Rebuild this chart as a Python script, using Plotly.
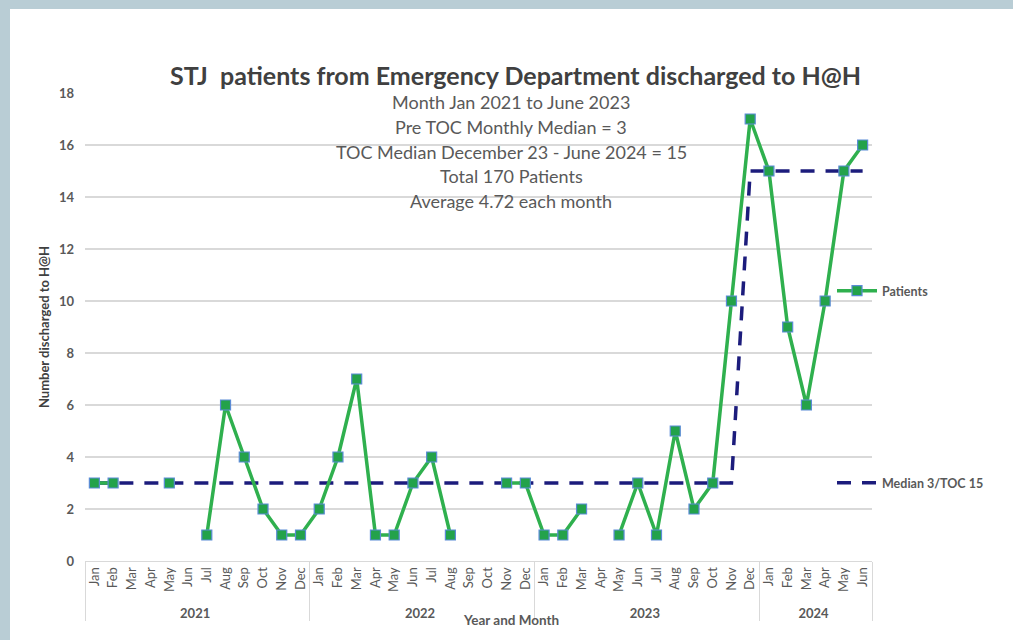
import plotly.graph_objects as go

# --- data -------------------------------------------------------------------
years = ["2021"] * 12 + ["2022"] * 12 + ["2023"] * 12 + ["2024"] * 6
months = ["Jan", "Feb", "Mar", "Apr", "May", "Jun",
          "Jul", "Aug", "Sep", "Oct", "Nov", "Dec"] * 3 + \
         ["Jan", "Feb", "Mar", "Apr", "May", "Jun"]

patients = [3, 3, None, None, 3, None, 1, 6, 4, 2, 1, 1,
            2, 4, 7, 1, 1, 3, 4, 1, None, None, 3, 3,
            1, 1, 2, None, 1, 3, 1, 5, 2, 3, 10, 17,
            15, 9, 6, 10, 15, 16]
median = [3, 3, 3, 3, 3, 3, 3, 3, 3, 3, 3, 3,
          3, 3, 3, 3, 3, 3, 3, 3, 3, 3, 3, 3,
          3, 3, 3, 3, 3, 3, 3, 3, 3, 3, 3, 15,
          15, 15, 15, 15, 15, 15]

title_text = "STJ  patients from Emergency Department discharged to H@H"
notes = ["Month Jan 2021 to June 2023",
         "Pre TOC Monthly Median = 3",
         "TOC Median December 23 - June 2024 = 15",
         "Total 170 Patients",
         "Average 4.72 each month"]

FONT = "Lato, 'Open Sans', sans-serif"
GREY = "#595959"
GRID = "#d9d9d9"

# plot area in pixels: x 85..872, y 93..561
L, R, T, B = 85, 141, 93, 79
W, H = 1013, 640
PH = H - T - B


def py(ypix):
    """pixel row -> paper y"""
    return (H - B - ypix) / PH


def px(xpix):
    return (xpix - L) / (W - L - R)


# year group labels are bold in the original
year_labels = ["<b>%s</b>" % y for y in years]

fig = go.Figure()

fig.add_trace(go.Scatter(
    x=[year_labels, months], y=median, name="Median 3/TOC 15",
    mode="lines", line=dict(color="#1c1c7c", width=3.5, dash="14px,11px"),
    legend="legend2", showlegend=True, hoverinfo="skip",
))
fig.add_trace(go.Scatter(
    x=[year_labels, months], y=patients, name="Patients",
    mode="lines+markers", connectgaps=False,
    line=dict(color="#2fb04e", width=3.5),
    marker=dict(symbol="square", size=10, color="#23a24a",
                line=dict(color="#5b8bd6", width=1.2)),
    legend="legend", showlegend=True,
))

fig.update_layout(
    width=W, height=H,
    margin=dict(l=L, r=R, t=T, b=B),
    paper_bgcolor="#b9cdd5", plot_bgcolor="white",
    font=dict(family=FONT, color=GREY),
    showlegend=True,
    legend=dict(x=px(832), y=py(291), xanchor="left", yanchor="middle",
                bgcolor="rgba(0,0,0,0)", font=dict(size=12.5, color=GREY, weight="bold"),
                itemwidth=40, visible=True),
    legend2=dict(x=px(832), y=py(483), xanchor="left", yanchor="middle",
                 bgcolor="rgba(0,0,0,0)", font=dict(size=12.5, color=GREY, weight="bold"),
                 itemwidth=40, visible=True),
    xaxis=dict(
        type="multicategory", tickangle=-90, range=[-0.5, 41.5],
        tickfont=dict(size=13, color=GREY),
        showgrid=False, showline=True, linecolor=GRID, linewidth=1,
        showdividers=True, dividercolor=GRID, dividerwidth=1,
        ticks="", automargin=False,
    ),
    yaxis=dict(
        range=[0, 18], dtick=2, showgrid=True, gridcolor=GRID, gridwidth=1.5,
        zeroline=False, showline=False,
        tickfont=dict(size=13, color=GREY, weight="bold"),
        ticklabelstandoff=10,
        title=dict(text="Number discharged to H@H", standoff=6,
                   font=dict(size=13, color="#404040", weight="bold")),
        automargin=False,
    ),
    hovermode=False,
)

# white panel inside the blue-grey frame
fig.add_shape(type="rect", xref="paper", yref="paper",
              x0=px(10), x1=px(W + 5), y0=py(H + 5), y1=py(9),
              fillcolor="white", line=dict(width=0), layer="below")

fig.add_annotation(text=title_text, xref="paper", yref="paper",
                   x=px(515), y=py(75), xanchor="center", yanchor="middle",
                   showarrow=False,
                   font=dict(size=25, color="#404040", weight="bold"))
for i, t in enumerate(notes):
    fig.add_annotation(text=t, xref="paper", yref="paper",
                       x=px(511), y=py(102 + i * 24.8),
                       xanchor="center", yanchor="middle", showarrow=False,
                       font=dict(size=18, color=GREY))

fig.add_annotation(text="Year and Month", xref="paper", yref="paper",
                   x=px(511), y=py(620), xanchor="center", yanchor="middle",
                   showarrow=False,
                   font=dict(size=13.5, color=GREY, weight="bold"))

fig.write_html("out.html", config={"displayModeBar": False},
               post_script="document.body.style.margin='0';")
